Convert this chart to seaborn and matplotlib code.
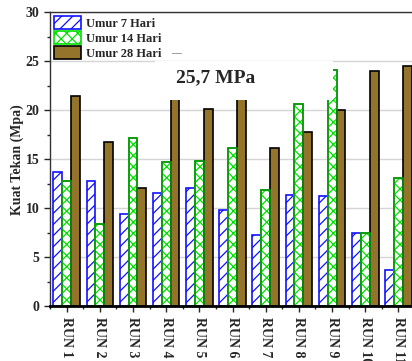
"""Kuat tekan beton per RUN untuk umur 7, 14 dan 28 hari."""
import pandas as pd
import seaborn as sns
import matplotlib.pyplot as plt
from matplotlib.patches import Rectangle
from matplotlib.ticker import MultipleLocator

runs = ['RUN 1', 'RUN 2', 'RUN 3', 'RUN 4', 'RUN 5', 'RUN 6',
        'RUN 7', 'RUN 8', 'RUN 9', 'RUN 10', 'RUN 11']
umur_7 = [13.7, 12.8, 9.4, 11.5, 12.1, 9.8, 7.3, 11.3, 11.2, 7.5, 3.7]
umur_14 = [12.8, 8.4, 17.2, 14.7, 14.8, 16.1, 11.9, 20.6, 24.1, 7.5, 13.1]
umur_28 = [21.5, 16.8, 12.1, 24.0, 20.1, 24.5, 16.1, 17.8, 20.0, 24.0, 24.5]
labels = ['Umur 7 Hari', 'Umur 14 Hari', 'Umur 28 Hari']

df = pd.DataFrame({
    'run': runs * 3,
    'kuat': umur_7 + umur_14 + umur_28,
    'umur': [labels[0]] * 11 + [labels[1]] * 11 + [labels[2]] * 11,
})

sns.set_style('white')
plt.rcParams['font.family'] = ['Liberation Serif', 'DejaVu Serif']
plt.rcParams['font.weight'] = 'bold'
plt.rcParams['hatch.linewidth'] = 0.9

fig = plt.figure(figsize=(4.12, 3.61), dpi=100)
ax = fig.add_axes([0.1214, 0.152, 0.886, 0.814])

sns.barplot(data=df, x='run', y='kuat', hue='umur', hue_order=labels,
            palette=['white', 'white', '#A57A1A'], width=0.8,
            legend=False, ax=ax, zorder=2)

# styling each series: hatch + edge colour
styles = [('///', '#1010FF'), ('xxx', '#00E000'), ('', 'black')]
for cont, (hatch, ec), lab in zip(ax.containers, styles, labels):
    cont.set_label(lab)
    for p in cont.patches:
        p.set_hatch(hatch)
        p.set_edgecolor(ec)
        p.set_linewidth(1.2)
# darker outline for the green bars
for p in ax.containers[1].patches:
    ax.add_patch(Rectangle(p.get_xy(), p.get_width(), p.get_height(),
                           fill=False, edgecolor='#109010', lw=1.2, zorder=2.1))

# white box behind the annotation
ax.add_patch(Rectangle((2.66, 21.0), 5.36, 4.0, facecolor='white',
                       edgecolor='none', zorder=3))
ax.text(4.5, 23.3, '25,7 MPa', fontsize=14, fontweight='bold',
        ha='center', va='center', zorder=4)
ax.text(3.3, 25.8, '—', fontsize=7, color='#808080', ha='center',
        va='center', zorder=4)

ax.set_ylim(0, 30)
ax.set_xlim(-0.5, 10.5)
ax.yaxis.set_major_locator(MultipleLocator(5))
ax.yaxis.set_minor_locator(MultipleLocator(2.5))
ax.xaxis.set_minor_locator(MultipleLocator(1, offset=0.5))
ax.grid(axis='y', color='#D5D5D5', lw=1.0, zorder=0)
ax.set_axisbelow(True)

ax.set_xlabel('')
ax.set_ylabel('Kuat Tekan (Mpa)', fontsize=10, fontweight='bold', labelpad=1)
ax.tick_params(axis='both', which='major', direction='out', length=4,
               width=1, labelsize=10, left=True, bottom=True)
ax.tick_params(axis='both', which='minor', direction='out', length=2.5,
               width=1, left=True, bottom=True)
for lab in ax.get_xticklabels():
    lab.set_rotation(270)
    lab.set_fontweight('bold')
for lab in ax.get_yticklabels():
    lab.set_fontweight('bold')

for side in ['left', 'bottom', 'top', 'right']:
    ax.spines[side].set_color('#333333')
    ax.spines[side].set_linewidth(1.0)
ax.spines['bottom'].set_linewidth(2.0)
ax.spines['bottom'].set_color('black')

leg = ax.legend(handles=ax.containers, loc='upper left', frameon=False,
                prop={'weight': 'bold', 'size': 9}, handlelength=2.2,
                handleheight=1.2, labelspacing=0.12, borderaxespad=0.1,
                handletextpad=0.4, borderpad=0.2)
leg.set_zorder(5)

fig.savefig('out.png', dpi=100)
